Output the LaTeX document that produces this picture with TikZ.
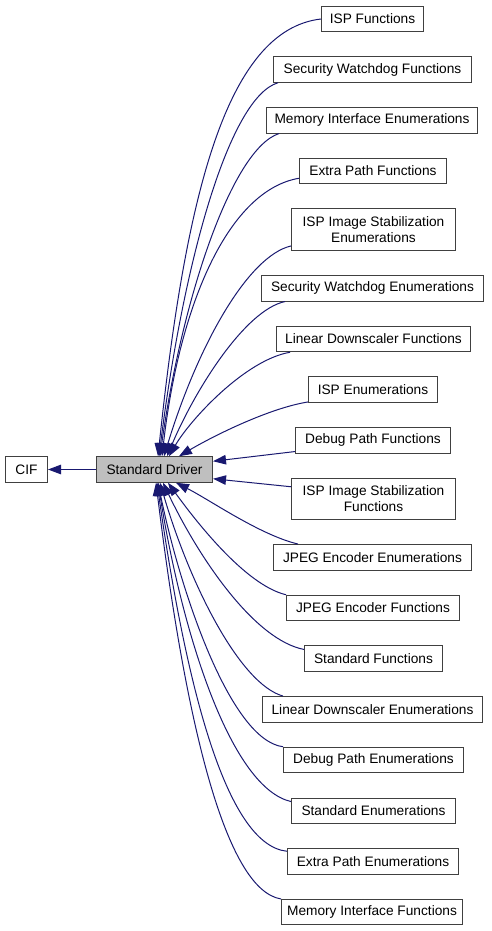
\documentclass[tikz,border=0pt]{standalone}
\usepackage{fontspec}
\setmainfont{Liberation Sans}
\usetikzlibrary{arrows.meta,calc}
\definecolor{edgeblue}{HTML}{191970}
\definecolor{boxline}{HTML}{404040}
\definecolor{sdfill}{HTML}{BFBFBF}
\begin{document}
\begin{tikzpicture}[x=1pt,y=-1pt,
  box/.style={draw=boxline, line width=1pt, fill=white, inner xsep=0pt, inner ysep=0pt,
    minimum height=25.5pt, font=\fontsize{13.7}{16}\selectfont, align=center},
  tall/.style={minimum height=41.5pt},
  dep/.style={draw=edgeblue, line width=1pt, -{Triangle[length=13pt,width=9.5pt]}},
]
\useasboundingbox (0,0) rectangle (491,931);

\node[box, minimum width=42pt] (cif) at (26.5,469.5) {CIF};
\node[box, fill=sdfill, minimum width=116pt] (sd) at (154.5,469.5) {Standard Driver};

\node[box, minimum width=102pt] (n1) at (372.5,19) {ISP Functions};
\node[box, minimum width=198pt] (n2) at (372.5,69.5) {Security Watchdog Functions};
\node[box, minimum width=211pt] (n3) at (372,120.3) {Memory Interface Enumerations};
\node[box, minimum width=147pt] (n4) at (373,171) {Extra Path Functions};
\node[box, tall, minimum width=164pt] (n5) at (373.5,229.7) {ISP Image Stabilization\\Enumerations};
\node[box, minimum width=222pt] (n6) at (372.5,288.3) {Security Watchdog Enumerations};
\node[box, minimum width=194pt] (n7) at (373.5,339) {Linear Downscaler Functions};
\node[box, minimum width=129pt] (n8) at (373,389.7) {ISP Enumerations};
\node[box, minimum width=155pt] (n9) at (373,440.3) {Debug Path Functions};
\node[box, tall, minimum width=164pt] (n10) at (373.5,499) {ISP Image Stabilization\\Functions};
\node[box, minimum width=198pt] (n11) at (372.5,557.3) {JPEG Encoder Enumerations};
\node[box, minimum width=173pt] (n12) at (373,608) {JPEG Encoder Functions};
\node[box, minimum width=138pt] (n13) at (373.5,658.7) {Standard Functions};
\node[box, minimum width=220pt] (n14) at (372.5,709.3) {Linear Downscaler Enumerations};
\node[box, minimum width=180pt] (n15) at (373.5,760) {Debug Path Enumerations};
\node[box, minimum width=164pt] (n16) at (373.5,810.8) {Standard Enumerations};
\node[box, minimum width=171pt] (n17) at (373,861.5) {Extra Path Enumerations};
\node[box, minimum width=181pt] (n18) at (372,912.2) {Memory Interface Functions};

\draw[dep] (sd.west) -- (cif.east);

% upper fan
\draw[dep] (n1.west) .. controls (225,30) and (185,200) .. ([xshift=62pt]sd.north west);
\draw[dep] ([xshift=5pt]n2.south west) .. controls (230,97) and (184,257) .. ([xshift=63pt]sd.north west);
\draw[dep] ([xshift=13pt]n3.south west) .. controls (232,149) and (182,298) .. ([xshift=64pt]sd.north west);
\draw[dep] ([yshift=6pt]n4.south west) .. controls (230,190) and (180,300) .. ([xshift=66pt]sd.north west);
\draw[dep] ([yshift=5pt]n5.south west) .. controls (248,256) and (198,345) .. ([xshift=68pt]sd.north west);
\draw[dep] ([xshift=24pt]n6.south west) .. controls (245,310) and (195,390) .. ([xshift=71pt]sd.north west);
\draw[dep] ([xshift=14pt]n7.south west) .. controls (245,360) and (190,420) .. ([xshift=73pt]sd.north west);
\draw[dep] ([yshift=1pt]n8.south west) .. controls (270,408) and (215,435) .. ([xshift=83pt]sd.north west);
\draw[dep] ([yshift=2pt]n9.south west) -- ([yshift=-5pt]sd.north east);
\draw[dep] ([yshift=-9pt]n10.north west) -- ([yshift=4pt]sd.south east);

% lower fan
\draw[dep] ([xshift=25pt]n11.north west) .. controls (260,535) and (210,500) .. ([xshift=80pt]sd.south west);
\draw[dep] (n12.north west) .. controls (245,585) and (195,520) .. ([xshift=72pt]sd.south west);
\draw[dep] ([yshift=-4pt]n13.north west) .. controls (255,640) and (200,560) .. ([xshift=67pt]sd.south west);
\draw[dep] ([xshift=21pt]n14.north west) .. controls (240,684) and (190,585) .. ([xshift=64pt]sd.south west);
\draw[dep] (n15.north west) .. controls (230,740) and (180,590) .. ([xshift=62pt]sd.south west);
\draw[dep] ([yshift=-4pt]n16.north west) .. controls (232,788) and (183,639) .. ([xshift=62pt]sd.south west);
\draw[dep] ([yshift=-3pt]n17.north west) .. controls (225,845) and (185,680) .. ([xshift=61pt]sd.south west);
\draw[dep] (n18.north west) .. controls (225,890) and (185,720) .. ([xshift=60pt]sd.south west);
\end{tikzpicture}
\end{document}
